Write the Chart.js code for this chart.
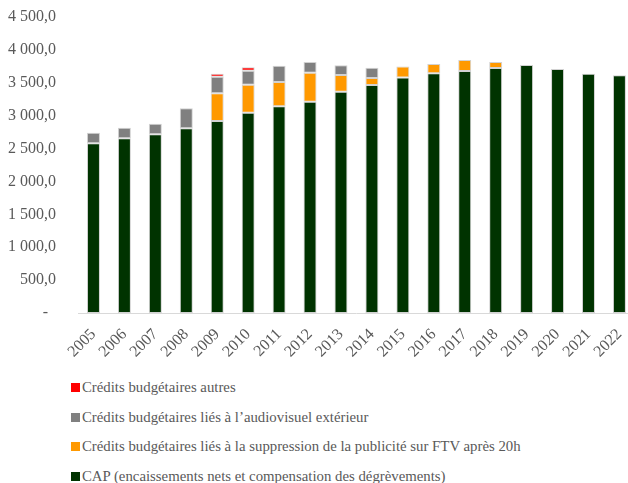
<!DOCTYPE html>
<html>
<head>
<meta charset="utf-8">
<script src="https://cdn.jsdelivr.net/npm/chart.js@4.4.1/dist/chart.umd.min.js"></script>
<style>
  html, body { margin: 0; padding: 0; background: #fff; overflow: hidden; }
  body { width: 628px; height: 483px; position: relative; }
  #wrap { position: absolute; left: 0; top: 0; width: 645px; height: 370px; }
  #legend { position: absolute; left: 71px; top: 378px; font-family: "Liberation Serif", serif; font-size: 14.8px; color: #595959; }
  .item { position: relative; height: 29.5px; line-height: 18px; white-space: nowrap; }
  .sw { display: inline-block; width: 9px; height: 9px; margin-right: 2px; vertical-align: 0px; }
</style>
</head>
<body>
<div id="wrap"><canvas id="c"></canvas></div>
<div id="legend"></div>
<script>
const years = ['2005','2006','2007','2008','2009','2010','2011','2012','2013','2014','2015','2016','2017','2018','2019','2020','2021','2022'];
const capValues = [2579, 2655, 2716, 2807, 2918, 3045, 3142, 3212, 3364, 3466, 3582, 3643, 3678, 3724, 3770, 3709, 3638, 3613];
const pubValues = [null, null, null, null, 421, 425, 369, 441, 254, 106, 167, 142, 168, 91, null, null, null, null];
const extValues = [162, 162, 161, 304, 253, 213, 248, 162, 147, 157, null, null, null, null, null, null, null, null];
const autresValues = [null, null, null, null, 45, 52, null, null, null, null, null, null, null, null, null, null, null, null];
const yTicks = [0, 500, 1000, 1500, 2000, 2500, 3000, 3500, 4000, 4500];

const seriesNames = [
  'CAP (encaissements nets et compensation des dégrèvements)',
  'Crédits budgétaires liés à la suppression de la publicité sur FTV après 20h',
  'Crédits budgétaires liés à l\u2019audiovisuel extérieur',
  'Crédits budgétaires autres'
];
const seriesColors = ['#003300', '#FF9900', '#808080', '#FF0000'];
const seriesData = [capValues, pubValues, extValues, autresValues];

const fmt = v => {
  if (v === 0) return '-  ';
  const s = Math.round(v).toString().replace(/\B(?=(\d{3})+(?!\d))/g, ' ');
  return s + ',0';
};

const datasets = seriesData.map((d, i) => ({
  label: seriesNames[i],
  data: d,
  backgroundColor: seriesColors[i],
  borderColor: 'rgba(205,205,205,0.9)',
  borderWidth: 1,
  borderSkipped: false,
  barPercentage: 0.42,
  categoryPercentage: 1.0
}));

const font = { family: '"Liberation Serif", serif', size: 16 };

new Chart(document.getElementById('c'), {
  type: 'bar',
  data: { labels: years, datasets },
  options: {
    responsive: true,
    maintainAspectRatio: false,
    animation: false,
    layout: { padding: { top: 17, left: 0, right: 0, bottom: 0 } },
    plugins: { legend: { display: false }, tooltip: { enabled: false } },
    scales: {
      x: {
        stacked: true,
        grid: { display: false, drawTicks: false },
        border: { display: true, color: '#d9d9d9', width: 1 },
        ticks: { color: '#595959', font: font, maxRotation: 45, minRotation: 45, padding: 12, autoSkip: false },
        afterFit: s => { s.height = 57; }
      },
      y: {
        stacked: true,
        min: 0, max: 4500,
        afterBuildTicks: s => { s.ticks = yTicks.map(v => ({ value: v })); },
        grid: { display: false, drawTicks: false },
        border: { display: false },
        ticks: { color: '#595959', font: font, padding: 22, callback: v => fmt(v) },
        afterFit: s => { s.width = 78; s.paddingTop = 0; s.paddingBottom = 0; }
      }
    }
  }
});

const lg = document.getElementById('legend');
[3, 2, 1, 0].forEach(i => {
  const row = document.createElement('div');
  row.className = 'item';
  const sw = document.createElement('span');
  sw.className = 'sw';
  sw.style.background = seriesColors[i];
  row.appendChild(sw);
  row.appendChild(document.createTextNode(seriesNames[i]));
  lg.appendChild(row);
});
</script>
</body>
</html>
